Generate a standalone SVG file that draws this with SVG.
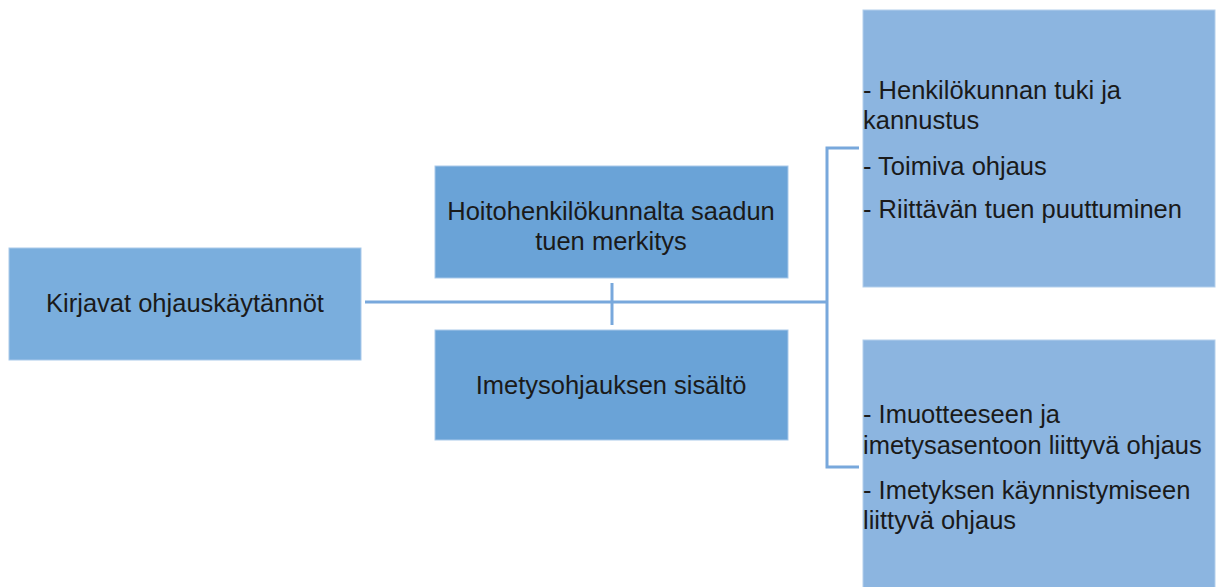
<svg xmlns="http://www.w3.org/2000/svg" width="1217" height="587" viewBox="0 0 1217 587">
<style>
.t{font-family:"Liberation Sans",Arial,sans-serif;font-size:25.5px;fill:#1a1a1a}
.c{text-anchor:middle}
.b1{fill:#7aaedd;stroke:#a9c9ea;stroke-width:1}
.b2{fill:#6aa3d7;stroke:#a9c9ea;stroke-width:1}
.b3{fill:#8cb5e0;stroke:#b3cfec;stroke-width:1}
.ln{stroke:#78a8dc;stroke-width:3;fill:none}
</style>
<rect width="1217" height="587" fill="#ffffff"/>
<g id="connectors">
<line class="ln" x1="365" y1="302" x2="827" y2="302"/>
<line class="ln" x1="612" y1="283" x2="612" y2="325"/>
<polyline class="ln" points="859,148 827,148 827,467 859,467"/>
</g>
<g id="kirjavat">
<rect class="b1" x="9" y="248" width="352" height="112"/>
<text class="t c" x="185" y="312">Kirjavat ohjauskäytännöt</text>
</g>
<g id="hoitohenkilokunta">
<rect class="b2" x="435" y="166" width="353" height="112"/>
<text class="t c" x="611" y="220">Hoitohenkilökunnalta saadun</text>
<text class="t c" x="611" y="250">tuen merkitys</text>
</g>
<g id="imetysohjaus">
<rect class="b2" x="435" y="330" width="353" height="110"/>
<text class="t c" x="611" y="394">Imetysohjauksen sisältö</text>
</g>
<g id="tuki">
<rect class="b3" x="863" y="10" width="352" height="277"/>
<text class="t" x="863" y="99">- Henkilökunnan tuki ja</text>
<text class="t" x="863" y="129">kannustus</text>
<text class="t" x="863" y="175">- Toimiva ohjaus</text>
<text class="t" x="863" y="218">- Riittävän tuen puuttuminen</text>
</g>
<g id="sisalto">
<rect class="b3" x="863" y="340" width="352" height="250"/>
<text class="t" x="863" y="423">- Imuotteeseen ja</text>
<text class="t" x="863" y="454">imetysasentoon liittyvä ohjaus</text>
<text class="t" x="863" y="499">- Imetyksen käynnistymiseen</text>
<text class="t" x="863" y="529">liittyvä ohjaus</text>
</g>
</svg>
